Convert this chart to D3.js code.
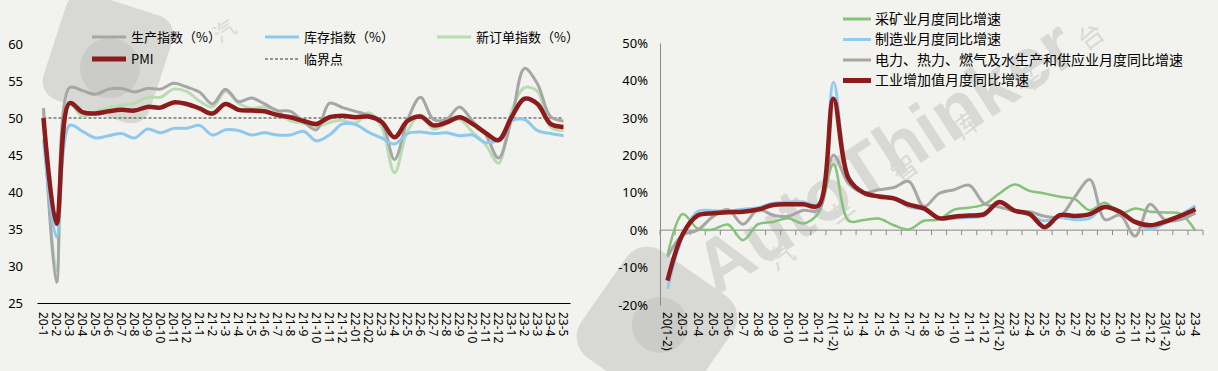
<!DOCTYPE html>
<html lang="zh">
<head>
<meta charset="UTF-8">
<title>PMI与工业增加值</title>
<script src="https://d3js.org/d3.v7.min.js"></script>
<style>
  body { margin: 0; background: #f2f3ee; }
  svg { display: block; font-family: "Noto Sans CJK SC", "Noto Sans", sans-serif; }
</style>
</head>
<body>
<svg id="chart" width="1218" height="371"></svg>
<script>
// ---- left chart data (PMI, %) ----
var monthsL = ["20-1","20-2","20-3","20-4","20-5","20-6","20-7","20-8","20-9","20-10","20-11","20-12",
  "21-1","21-2","21-3","21-4","21-5","21-6","21-7","21-8","21-9","21-10","21-11","21-12",
  "22-01","22-02","22-3","22-4","22-5","22-6","22-7","22-8","22-9","22-10","22-11","22-12",
  "23-1","23-2","23-3","23-4","23-5"];
var production = [51.3,27.8,54.1,53.7,53.2,53.9,54.0,53.5,54.0,53.9,54.7,54.2,
  53.5,51.9,53.9,52.2,52.7,51.9,51.0,50.9,49.5,48.4,52.0,51.4,
  50.9,50.4,49.5,44.4,49.7,52.8,49.8,49.8,51.5,49.6,47.8,44.6,
  49.8,56.7,54.6,50.2,49.6];
var inventory = [47.1,33.9,49.0,48.2,47.3,47.6,47.9,47.3,48.5,48.0,48.6,48.6,
  49.0,47.7,48.4,48.3,47.7,48.0,47.7,47.7,48.2,46.9,47.7,49.2,
  49.1,48.1,47.3,46.5,47.9,48.1,47.9,48.0,47.6,47.7,46.7,47.1,
  49.6,49.8,48.3,47.9,47.6];
var newOrders = [51.4,29.3,52.0,50.2,50.9,51.4,51.7,52.0,52.8,52.8,53.9,53.6,
  52.3,51.5,53.6,52.0,51.3,51.5,50.9,49.6,49.3,48.8,49.4,49.7,
  49.3,50.7,48.8,42.6,48.2,50.4,48.5,49.2,49.8,48.1,46.4,43.9,
  50.9,54.1,53.6,48.8,48.3];
var pmi = [50.0,35.7,52.0,50.8,50.6,50.9,51.1,51.0,51.5,51.4,52.1,51.9,
  51.3,50.6,51.9,51.1,51.0,50.9,50.4,50.1,49.6,49.2,50.1,50.3,
  50.1,50.2,49.5,47.4,49.6,50.2,49.0,49.4,50.1,49.2,48.0,47.0,
  50.1,52.6,51.9,49.2,48.8];
var threshold = 50;
var ticksL = [25,30,35,40,45,50,55,60];

// ---- right chart data (YoY growth, %) ----
var monthsR = ["20(1-2)","20-3","20-4","20-5","20-6","20-7","20-8","20-9","20-10","20-11","20-12",
  "21(1-2)","21-3","21-4","21-5","21-6","21-7","21-8","21-9","21-10","21-11","21-12",
  "22(1-2)","22-3","22-4","22-5","22-6","22-7","22-8","22-9","22-10","22-11","22-12",
  "23(1-2)","23-3","23-4"];
var mining = [-6.7,4.3,0.4,0.2,1.5,-2.7,1.6,2.2,3.2,1.8,4.5,
  17.6,2.5,2.7,3.1,1.3,0.2,2.5,2.8,5.5,6.0,6.9,
  9.8,12.2,10.5,9.8,8.9,8.3,5.3,7.3,4.4,5.8,4.9,
  4.7,4.4,-0.2];
var manufacturing = [-15.7,-1.8,5.0,5.2,5.1,5.6,6.0,7.2,7.5,7.5,6.8,
  39.5,14.5,10.0,9.0,8.5,6.2,5.5,3.0,3.2,3.4,3.9,
  7.3,5.2,4.0,2.5,3.4,2.8,3.2,6.4,5.0,2.0,0.3,
  1.9,4.0,6.5];
var utilities = [-7.1,-1.3,0.0,3.6,5.5,1.6,5.5,4.0,3.7,5.3,5.3,
  20.0,12.5,10.0,10.8,11.4,13.0,6.3,9.8,10.8,12.0,7.1,
  6.2,5.1,4.9,3.7,3.6,8.9,13.5,2.8,4.0,-1.6,6.9,
  2.7,2.8,4.6];
var industry = [-13.5,-1.1,3.9,4.5,4.8,4.9,5.5,6.7,6.9,6.9,6.5,
  35.1,13.8,10.0,9.0,8.5,6.8,5.8,3.2,3.6,3.9,4.3,
  7.5,5.2,4.3,0.8,4.0,3.8,4.3,6.2,4.9,2.2,1.3,
  2.3,3.8,5.6];
var ticksR = [-20,-10,0,10,20,30,40,50];

var svg = d3.select("#chart");
var curve = d3.curveCatmullRom.alpha(0.5);

// watermark, drawn first so it sits under the lines
var wm = svg.append("g").attr("fill", "#d8d9d5");
// left logo tile
wm.append("rect").attr("x", 52).attr("y", 2).attr("width", 112).attr("height", 112).attr("rx", 20)
  .attr("transform", "rotate(18,108,58)");
wm.append("circle").attr("cx", 110).attr("cy", 68).attr("r", 30).attr("fill", "#cbccc8");
wm.append("text").attr("font-size", 22)
  .attr("transform", "translate(220,44) rotate(-35)").text("汽");
// right logo tile
wm.append("rect").attr("x", 592).attr("y", 262).attr("width", 130).attr("height", 130).attr("rx", 26)
  .attr("transform", "rotate(35,657,327)");
wm.append("circle").attr("cx", 660).attr("cy", 325).attr("r", 28).attr("fill", "#cbccc8");
wm.append("text").attr("transform", "translate(716,296) rotate(-33)")
  .attr("font-family", "Arial, 'Liberation Sans', sans-serif").attr("font-weight", "bold")
  .attr("font-size", 74).text("AutoThinker");
wm.selectAll("text.wmc").data(["汽","车","智","库","平","台"]).join("text")
  .attr("font-size", 26)
  .attr("transform", function(d, i) {
    return "translate(" + (776 + i * 62) + "," + (272 - i * 44) + ") rotate(-37)";
  })
  .text(function(d) { return d; });

// ================= left chart =================
var xL = d3.scaleBand().domain(monthsL).range([37, 570]);
var yL = d3.scaleLinear().domain([25, 60]).range([303, 44]);
var cxL = function(i) { return xL(monthsL[i]) + xL.bandwidth() / 2; };

var gL = svg.append("g");

gL.append("g").attr("transform", "translate(0,303)")
  .call(d3.axisBottom(xL).tickSize(0).tickSizeOuter(0))
  .call(function(g) {
    g.select(".domain").attr("stroke", "#000");
    g.selectAll("text").attr("font-size", 12).attr("fill", "#000")
      .attr("text-anchor", "start").attr("transform", "rotate(90)")
      .attr("x", 9).attr("y", 0).attr("dy", "0.35em")
      .attr("font-family", "'Noto Sans', sans-serif");
  });

gL.append("g").selectAll("text.ytick").data(ticksL).join("text")
  .attr("x", 23).attr("y", function(d) { return yL(d); }).attr("dy", "0.35em")
  .attr("text-anchor", "end").attr("font-size", 13).attr("font-family", "'Noto Sans', sans-serif")
  .text(function(d) { return d; });

gL.append("line")
  .attr("x1", cxL(0)).attr("x2", cxL(monthsL.length - 1))
  .attr("y1", yL(threshold)).attr("y2", yL(threshold))
  .attr("stroke", "#333").attr("stroke-width", 1).attr("stroke-dasharray", "3,2");

var seriesL = [
  { name: "新订单指数（%）", values: newOrders, color: "#b9dcb3", width: 3 },
  { name: "生产指数（%）", values: production, color: "#a6a6a6", width: 3 },
  { name: "库存指数（%）", values: inventory, color: "#8fc8ee", width: 3 },
  { name: "PMI", values: pmi, color: "#8c1c1c", width: 4.5 }
];
var lineL = d3.line().x(function(d, i) { return cxL(i); }).y(function(d) { return yL(d); }).curve(curve);
gL.selectAll("path.series").data(seriesL).join("path")
  .attr("fill", "none").attr("stroke", function(d) { return d.color; })
  .attr("stroke-width", function(d) { return d.width; })
  .attr("stroke-linejoin", "round")
  .attr("d", function(d) { return lineL(d.values); });

// left legend
var legL = [
  { name: "生产指数（%）", color: "#a6a6a6", width: 3, x: 92, y: 37 },
  { name: "库存指数（%）", color: "#8fc8ee", width: 3, x: 265, y: 37 },
  { name: "新订单指数（%）", color: "#b9dcb3", width: 3, x: 437, y: 37 },
  { name: "PMI", color: "#8c1c1c", width: 5, x: 92, y: 59 },
  { name: "临界点", color: "#333", width: 1, x: 265, y: 59, dash: "3,2" }
];
var lg = gL.selectAll("g.leg").data(legL).join("g")
  .attr("transform", function(d) { return "translate(" + d.x + "," + d.y + ")"; });
lg.append("line").attr("x1", 0).attr("x2", 34)
  .attr("stroke", function(d) { return d.color; })
  .attr("stroke-width", function(d) { return d.width; })
  .attr("stroke-dasharray", function(d) { return d.dash || null; });
lg.append("text").attr("x", 39).attr("dy", "0.35em").attr("font-size", 13)
  .text(function(d) { return d.name; });

// ================= right chart =================
var xR = d3.scaleBand().domain(monthsR).range([660, 1203]);
var yR = d3.scaleLinear().domain([-20, 50]).range([305, 43]);
var cxR = function(i) { return xR(monthsR[i]) + xR.bandwidth() / 2; };

var gR = svg.append("g");

gR.append("g").attr("transform", "translate(660,0)")
  .call(d3.axisLeft(yR).tickValues(ticksR).tickSize(0).tickPadding(12)
    .tickFormat(function(d) { return d + "%"; }))
  .call(function(g) {
    g.select(".domain").attr("stroke", "#8a8a8a");
    g.selectAll("text").attr("font-size", 13).attr("fill", "#000")
      .attr("font-family", "'Noto Sans', sans-serif");
  });

// zero line with tick marks at the category boundaries
gR.append("line").attr("x1", 660).attr("x2", 1203)
  .attr("y1", yR(0)).attr("y2", yR(0)).attr("stroke", "#8a8a8a");
gR.selectAll("line.tk").data(monthsR.concat(["end"])).join("line")
  .attr("x1", function(d) { return d === "end" ? 1203 : xR(d); })
  .attr("x2", function(d) { return d === "end" ? 1203 : xR(d); })
  .attr("y1", yR(0)).attr("y2", yR(0) + 5).attr("stroke", "#8a8a8a");

gR.append("g").attr("transform", "translate(0,305)")
  .call(d3.axisBottom(xR).tickSize(0))
  .call(function(g) {
    g.select(".domain").remove();
    g.selectAll("text").attr("font-size", 12).attr("fill", "#000")
      .attr("text-anchor", "start").attr("transform", "rotate(90)")
      .attr("x", 7).attr("y", 0).attr("dy", "0.35em")
      .attr("font-family", "'Noto Sans', sans-serif");
  });

var seriesR = [
  { name: "采矿业月度同比增速", values: mining, color: "#85c27a", width: 2.5 },
  { name: "制造业月度同比增速", values: manufacturing, color: "#92caf0", width: 3 },
  { name: "电力、热力、燃气及水生产和供应业月度同比增速", values: utilities, color: "#a6a6a6", width: 3 },
  { name: "工业增加值月度同比增速", values: industry, color: "#8c1c1c", width: 4.5 }
];
var lineR = d3.line().x(function(d, i) { return cxR(i); }).y(function(d) { return yR(d); }).curve(curve);
gR.selectAll("path.series").data(seriesR).join("path")
  .attr("fill", "none").attr("stroke", function(d) { return d.color; })
  .attr("stroke-width", function(d) { return d.width; })
  .attr("stroke-linejoin", "round")
  .attr("d", function(d) { return lineR(d.values); });

// right legend
var lr = gR.selectAll("g.leg").data(seriesR).join("g")
  .attr("transform", function(d, i) { return "translate(843," + (19 + i * 20.5) + ")"; });
lr.append("line").attr("x1", 0).attr("x2", 28)
  .attr("stroke", function(d) { return d.color; })
  .attr("stroke-width", function(d, i) { return i === 3 ? 5 : 3; });
lr.append("text").attr("x", 32).attr("dy", "0.35em").attr("font-size", 14)
  .text(function(d) { return d.name; });
</script>
</body>
</html>
